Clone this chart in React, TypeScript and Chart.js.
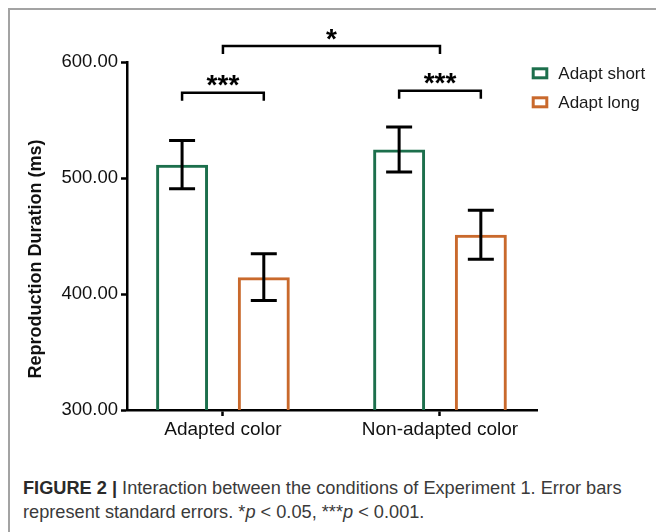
import React, { useEffect, useRef } from "react";
import { Chart, registerables } from "chart.js";

Chart.register(...registerables);

const categories = ["Adapted color", "Non-adapted color"];
const seriesLabels = ["Adapt short", "Adapt long"];
const adaptShort = [511.5, 524.5];
const adaptLong = [414.5, 451];
const adaptShortSE = [20.8, 19.4];
const adaptLongSE = [20.1, 21.1];
const yAxisTitle = "Reproduction Duration (ms)";
const withinStars = ["***", "***"];
const withinLevels = [573.5, 575.3];
const betweenStars = "*";
const betweenLevel = 613.8;

const GREEN = "#1c6f4c";
const ORANGE = "#c9692c";
const FONT = "'Liberation Sans', Arial, Helvetica, sans-serif";

const errorBarPlugin = {
  id: "errorBars",
  afterDatasetsDraw(chart: any) {
    const ctx = chart.ctx;
    const y = chart.scales.y;
    const errs = [adaptShortSE, adaptLongSE];
    ctx.save();
    ctx.strokeStyle = "#000";
    ctx.lineWidth = 3;
    ctx.lineCap = "butt";
    chart.data.datasets.forEach((ds: any, di: number) => {
      const meta = chart.getDatasetMeta(di);
      meta.data.forEach((bar: any, i: number) => {
        const v = ds.data[i].y;
        const e = errs[di][i];
        const top = y.getPixelForValue(v + e);
        const bot = y.getPixelForValue(v - e);
        const half = 13;
        ctx.beginPath();
        ctx.moveTo(bar.x, top);
        ctx.lineTo(bar.x, bot);
        ctx.moveTo(bar.x - half, top);
        ctx.lineTo(bar.x + half, top);
        ctx.moveTo(bar.x - half, bot);
        ctx.lineTo(bar.x + half, bot);
        ctx.stroke();
      });
    });
    ctx.restore();
  },
};

function drawBracket(ctx: any, x1: number, x2: number, yy: number, label: string) {
  const leg = 8;
  ctx.beginPath();
  ctx.moveTo(x1, yy + leg);
  ctx.lineTo(x1, yy);
  ctx.lineTo(x2, yy);
  ctx.lineTo(x2, yy + leg);
  ctx.stroke();
  ctx.fillText(label, (x1 + x2) / 2, yy - 6);
}

const annotationPlugin = {
  id: "annotations",
  afterDraw(chart: any) {
    const ctx = chart.ctx;
    const y = chart.scales.y;
    const x = chart.scales.x;
    const m0 = chart.getDatasetMeta(0);
    const m1 = chart.getDatasetMeta(1);
    const area = chart.chartArea;
    ctx.save();
    ctx.strokeStyle = "#000";
    ctx.fillStyle = "#000";
    ctx.lineWidth = 2.5;
    ctx.lineJoin = "miter";
    ctx.font = `bold 28px ${FONT}`;
    ctx.textAlign = "center";
    ctx.textBaseline = "middle";
    categories.forEach((_, i) => {
      drawBracket(ctx, m0.data[i].x, m1.data[i].x, y.getPixelForValue(withinLevels[i]), withinStars[i]);
    });
    drawBracket(ctx, x.getPixelForValue(0), x.getPixelForValue(1), y.getPixelForValue(betweenLevel), betweenStars);

    // y-axis title
    ctx.save();
    ctx.translate(area.left - 91, (area.top + area.bottom) / 2 + 23);
    ctx.rotate(-Math.PI / 2);
    ctx.font = `bold 18px ${FONT}`;
    ctx.fillStyle = "#111";
    ctx.textBaseline = "middle";
    ctx.fillText(yAxisTitle, 0, 0);
    ctx.restore();

    // legend
    const colors = [GREEN, ORANGE];
    seriesLabels.forEach((lab, i) => {
      const bx = area.right - 5.3;
      const cy = area.top + 11.3 + i * 29;
      const bw = 16.6;
      const bh = 12;
      ctx.lineWidth = 3;
      ctx.strokeStyle = colors[i];
      ctx.strokeRect(bx + 1.5, cy - bh / 2 + 1.5, bw - 3, bh - 3);
      ctx.fillStyle = "#1a1a1a";
      ctx.font = `17px ${FONT}`;
      ctx.textAlign = "left";
      ctx.textBaseline = "middle";
      ctx.fillText(lab, bx + 26.6, cy + 1);
    });
    ctx.restore();
  },
};

export default function App() {
  const ref = useRef<HTMLCanvasElement | null>(null);

  useEffect(() => {
    if (!ref.current) return;
    const chart = new Chart(ref.current, {
      type: "bar",
      data: {
        datasets: [
          {
            label: seriesLabels[0],
            data: adaptShort.map((v, i) => ({ x: i, y: v })),
            backgroundColor: "rgba(255,255,255,0)",
            borderColor: GREEN,
            borderWidth: 3,
          },
          {
            label: seriesLabels[1],
            data: adaptLong.map((v, i) => ({ x: i, y: v })),
            backgroundColor: "rgba(255,255,255,0)",
            borderColor: ORANGE,
            borderWidth: 3,
          },
        ],
      },
      options: {
        animation: false,
        responsive: true,
        maintainAspectRatio: false,
        categoryPercentage: 0.753,
        barPercentage: 0.636,
        layout: { padding: { left: 0, right: 119, top: 52, bottom: 10 } },
        plugins: { legend: { display: false }, tooltip: { enabled: false } },
        scales: {
          x: {
            type: "linear",
            offset: false,
            min: -0.442,
            max: 1.447,
            afterBuildTicks: (s: any) => {
              s.ticks = categories.map((_, i) => ({ value: i }));
            },
            afterFit: (s: any) => {
              s.height = 40;
            },
            ticks: {
              callback: (v: any) => categories[v] ?? "",
              font: { family: FONT, size: 19 },
              color: "#111",
              padding: 2,
              maxRotation: 0,
              autoSkip: false,
            },
            grid: {
              display: true,
              offset: false,
              drawOnChartArea: false,
              drawTicks: true,
              tickLength: 6,
              tickWidth: 2.5,
              tickColor: "#000",
            },
            border: { display: true, color: "#000", width: 2.5 },
          },
          y: {
            min: 300,
            max: 600,
            afterFit: (s: any) => {
              s.width = 117;
            },
            ticks: {
              stepSize: 100,
              callback: (v: any) => Number(v).toFixed(2),
              font: { family: FONT, size: 18.5 },
              color: "#111",
              padding: 3,
            },
            grid: {
              display: true,
              drawOnChartArea: false,
              drawTicks: true,
              tickLength: 6,
              tickWidth: 2.5,
              tickColor: "#000",
            },
            border: { display: true, color: "#000", width: 2.5 },
          },
        },
      },
      plugins: [errorBarPlugin, annotationPlugin],
    } as any);
    return () => chart.destroy();
  }, []);

  return (
    <div
      style={{
        position: "absolute",
        left: 8,
        top: 8,
        width: 648,
        height: 524,
        borderTop: "2px solid #a3a3a3",
        borderLeft: "2px solid #a3a3a3",
        boxSizing: "border-box",
        overflow: "hidden",
        background: "#fff",
      }}
    >
      <div style={{ position: "absolute", left: 0, top: 0, width: 646, height: 450 }}>
        <canvas ref={ref} />
      </div>
      <div
        style={{
          position: "absolute",
          left: 13,
          top: 466,
          width: 630,
          fontFamily: "'Liberation Sans', Arial, sans-serif",
          fontSize: 18.2,
          lineHeight: "24px",
          color: "#3a3a3a",
          whiteSpace: "nowrap",
        }}
      >
        <span style={{ fontWeight: "bold", color: "#2a2a2a" }}>FIGURE 2 | </span>
        Interaction between the conditions of Experiment 1. Error bars
        <br />
        represent standard errors. *<i>p</i> &lt; 0.05, ***<i>p</i> &lt; 0.001.
      </div>
    </div>
  );
}
